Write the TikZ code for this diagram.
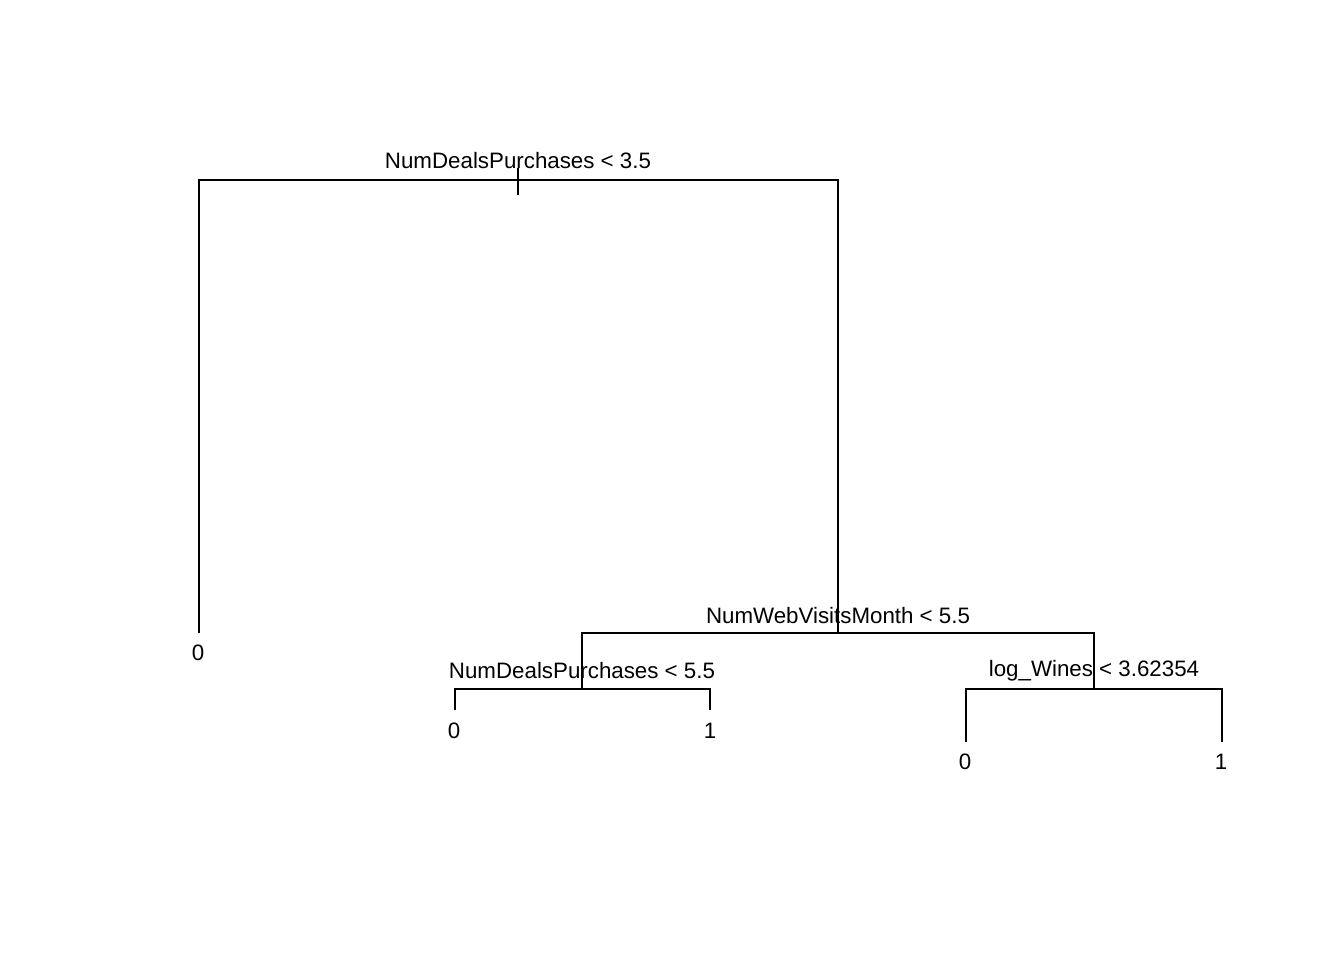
\documentclass[tikz,border=0pt]{standalone}
\usepackage{fontspec}
\setmainfont{Liberation Sans}
\begin{document}
\begin{tikzpicture}[x=1bp,y=-1bp,
  edge/.style={line width=1.7bp,line cap=butt},
  lbl/.style={anchor=base,inner sep=0pt,font=\fontsize{22.4}{26}\selectfont}]
\useasboundingbox (0,0) rectangle (1344,960);
% split and leaf positions
\coordinate (r) at (518,180);
\coordinate (rt) at (518,168);
\coordinate (rb) at (518,195);
\coordinate (l0) at (199,633);
\coordinate (n2) at (838,633);
\coordinate (n3) at (582,689);
\coordinate (n4) at (1094,689);
\coordinate (l3a) at (455,710);
\coordinate (l3b) at (710,710);
\coordinate (l4a) at (966,742);
\coordinate (l4b) at (1222,742);
% connectors
\draw[edge] (rt) -- (rb);
\draw[edge] (l0) |- (r) -| (n2);
\draw[edge] (n3) |- (n2) -| (n4);
\draw[edge] (l3a) |- (n3) -| (l3b);
\draw[edge] (l4a) |- (n4) -| (l4b);
% labels
\node[lbl] (t1) at (518,168) {NumDealsPurchases < 3.5};
\node[lbl] (t2) at (838,623) {NumWebVisitsMonth < 5.5};
\node[lbl] (t3) at (582,678) {NumDealsPurchases < 5.5};
\node[lbl] (t4) at (1094,676) {log\_Wines < 3.62354};
\node[lbl] (v0) at (198,660) {0};
\node[lbl] (v1) at (454,738) {0};
\node[lbl] (v2) at (710,738) {1};
\node[lbl] (v3) at (965,769) {0};
\node[lbl] (v4) at (1221,769) {1};
\end{tikzpicture}
\end{document}
